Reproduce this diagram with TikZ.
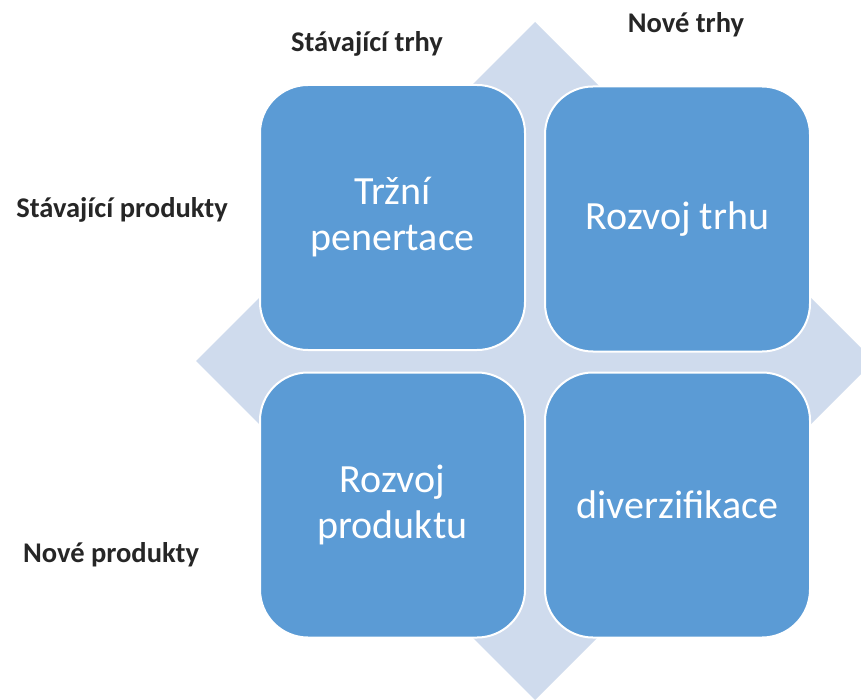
\documentclass[tikz,border=0pt]{standalone}
\usepackage{fontspec}
\setmainfont{Carlito}
\definecolor{boxblue}{HTML}{5B9BD5}
\definecolor{diamondblue}{HTML}{CFDBED}
\begin{document}
\begin{tikzpicture}[x=1pt,y=-1pt,
  quad/.style={draw=white, line width=2pt, fill=boxblue, rounded corners=48pt,
    minimum width=265pt, minimum height=265pt, inner sep=0pt,
    text=white, align=center, font=\fontsize{40}{46}\selectfont},
  axislabel/.style={font=\fontsize{28.5}{32}\selectfont\bfseries, text=black!85, inner sep=0pt}]
\clip (0,0) rectangle (861,700);
\fill[white] (0,0) rectangle (861,700);
\fill[diamondblue] (535,22) -- (874,361) -- (535,700) -- (196,361) -- cycle;
\node[quad] (tl) at (392.5,217.5) {Tržní\\penertace};
\node[quad] (tr) at (677.5,219) {Rozvoj trhu};
\node[quad] (bl) at (392.5,505) {Rozvoj\\produktu};
\node[quad] (br) at (677.5,505) {diverzifikace};
\node[axislabel] (st) at (367,44) {Stávající trhy};
\node[axislabel] (nt) at (686,25) {Nové trhy};
\node[axislabel] (sp) at (122,210) {Stávající produkty};
\node[axislabel] (np) at (111,555) {Nové produkty};
\end{tikzpicture}
\end{document}
